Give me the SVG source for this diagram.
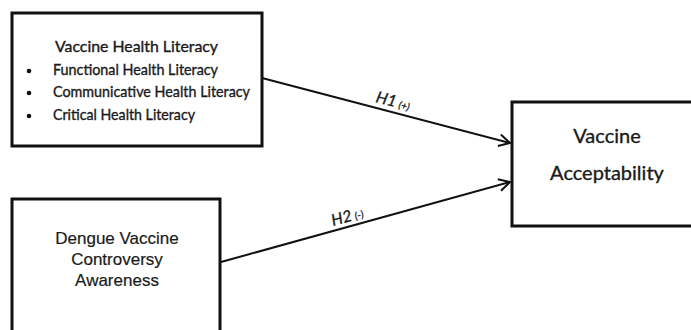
<svg xmlns="http://www.w3.org/2000/svg" width="691" height="330" viewBox="0 0 691 330">
<style>
.box{fill:#fff;stroke:#111;stroke-width:3}
.cal{font-family:Lato,"Open Sans","Liberation Sans",sans-serif;fill:#1a1a1a;stroke:#1a1a1a;stroke-width:0.35}
.ari{font-family:"Liberation Sans",Arial,sans-serif;fill:#1a1a1a;stroke:#1a1a1a;stroke-width:0.2}
.conn{stroke:#111;stroke-width:2;fill:none}
.lbl{font-family:Lato,"Liberation Sans",sans-serif;fill:#1a1a1a;stroke:#1a1a1a;stroke-width:0.3;font-style:italic}
</style>
<defs>
<marker id="arr" markerUnits="userSpaceOnUse" markerWidth="14" markerHeight="14" refX="12" refY="7" orient="auto" viewBox="0 0 14 14">
<path d="M1,1 L12,7 L1,13" fill="none" stroke="#111" stroke-width="2"/>
</marker>
</defs>
<rect width="691" height="330" fill="#fff"/>
<g id="connectors">
<line class="conn" x1="262" y1="78" x2="510" y2="143" marker-end="url(#arr)"/>
<line class="conn" x1="221" y1="262" x2="510" y2="182" marker-end="url(#arr)"/>
<text class="lbl" font-size="16" transform="rotate(14.6 375 102)" x="375" y="102">H1<tspan font-size="10" dx="3">(+)</tspan></text>
<text class="lbl" font-size="16" transform="rotate(-15.4 333 226)" x="333" y="226">H2<tspan font-size="10" dx="3">(-)</tspan></text>
</g>
<g id="node-literacy">
<rect class="box" x="12" y="13" width="250" height="133"/>
<text class="cal" font-size="15" x="55" y="52" textLength="163" lengthAdjust="spacingAndGlyphs">Vaccine Health Literacy</text>
<circle cx="29" cy="71" r="2.3" fill="#111"/>
<circle cx="29" cy="93" r="2.3" fill="#111"/>
<circle cx="29" cy="116" r="2.3" fill="#111"/>
<text class="cal" font-size="15" x="53" y="75" textLength="165" lengthAdjust="spacingAndGlyphs">Functional Health Literacy</text>
<text class="cal" font-size="15" x="53" y="97" textLength="197" lengthAdjust="spacingAndGlyphs">Communicative Health Literacy</text>
<text class="cal" font-size="15" x="53" y="120" textLength="142" lengthAdjust="spacingAndGlyphs">Critical Health Literacy</text>
</g>
<g id="node-dengue">
<rect class="box" x="12" y="199" width="208" height="140"/>
<text class="ari" font-size="17" text-anchor="middle" x="117" y="244">Dengue Vaccine</text>
<text class="ari" font-size="17" text-anchor="middle" x="117" y="265">Controversy</text>
<text class="ari" font-size="17" text-anchor="middle" x="117" y="286">Awareness</text>
</g>
<g id="node-acceptability">
<rect class="box" x="512" y="102" width="190" height="124"/>
<text class="cal" font-size="20" text-anchor="middle" x="607" y="143">Vaccine</text>
<text class="cal" font-size="20" text-anchor="middle" x="607" y="180">Acceptability</text>
</g>
</svg>
